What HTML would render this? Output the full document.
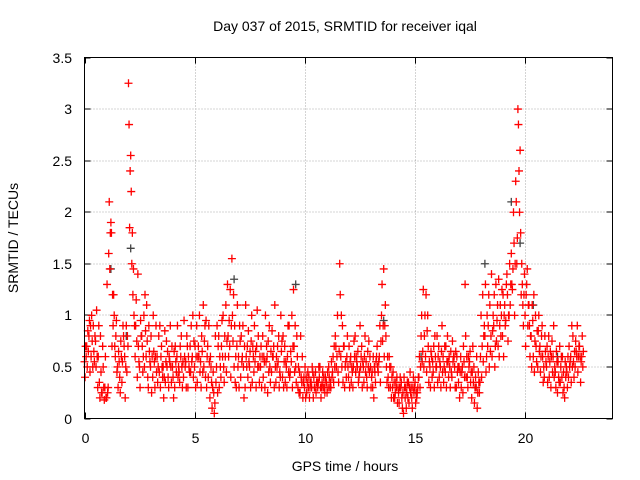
<!DOCTYPE html>
<html><head><meta charset="utf-8"><style>
body{margin:0;background:#fff;}
svg{display:block;font-family:"Liberation Sans",sans-serif;}
</style></head><body>
<svg id="chart" width="640" height="480" viewBox="0 0 640 480">
<rect width="640" height="480" fill="#fff"/>
<text x="345" y="31" font-size="14" text-anchor="middle" fill="#000">Day 037 of 2015, SRMTID for receiver iqal</text>
<text transform="translate(18,238) rotate(-90)" font-size="14" text-anchor="middle" fill="#000">SRMTID / TECUs</text>
<text x="345" y="471" font-size="14" text-anchor="middle" fill="#000">GPS time / hours</text>
<g id="grid"></g>
<g id="ticks"></g>
<g id="marks"></g>
<rect x="84.5" y="57.5" width="528" height="361" fill="none" stroke="#000" stroke-width="1"/>
</svg>
<script>
const xTicks=[0,5,10,15,20];
const yTicks=[0,0.5,1,1.5,2,2.5,3,3.5];
const yTickLabels=["0","0.5","1","1.5","2","2.5","3","3.5"];
const tStart=0, tStep=0.1;
const seriesA=[.55,.7,.8,.6,.9,.75,.3,.2,.25,.18, .2,1.6,1.9,.9,.6,.5,.4,.35,.7,.9, 3.25,2.55,1.2,.6,.4,.5,.8,1.0,.6,.3, .5,.4,.3,.6,.45,.7,.2,.55,.4,.9, .5,.3,.6,.45,.8,.4,.55,.3,.7,.6, .5,.9,.6,.3,1.1,.4,.7,.2,.1,.05, .5,.8,.4,1.0,.6,1.3,.7,1.55,.5,.3, .6,.4,.9,.3,.7,.5,1.0,.45,.3,.8, .5,.8,.3,.6,.9,.45,.7,.35,.55,.4, .4,.7,.3,.9,.55,1.25,.5,.3,.25,.6, .3,.25,.4,.35,.2,.45,.3,.5,.35,.3, .35,.5,.3,.6,.8,1.0,1.5,.5,.7,.4, .4,.6,.3,.8,.5,.45,.7,.35,.55,.5, .5,.3,.45,.7,.6,1.0,1.45,.8,.4,.3, .3,.2,.4,.15,.35,.05,.3,.2,.45,.1, .3,.2,.4,.8,1.25,.6,1.0,.5,.4,.3, .5,.7,.3,.6,.45,.8,.5,.4,.6,.3, .35,.6,.25,1.3,.4,.55,.2,.5,.3,.45, .6,1.2,.8,1.0,.5,1.4,.9,1.3,.7,1.1, .8,1.1,1.4,1.0,1.6,2.0,2.3,3.0,2.6,1.3, 1.4,1.3,1.1,.8,.6,1.0,.5,.7,.9,.4, .5,.8,.3,.6,.45,.25,.7,.4,.3,.5, .4,.6,.8,.5,.9,.7,.6];
const seriesB=[.4,.5,.95,1.0,.65,.5,.6,.8,.7,.3, 1.3,2.1,1.8,1.2,.8,.3,.25,.55,.6,.45, 2.85,2.2,1.45,.9,1.4,.3,.7,.5,1.1,.9, .8,1.0,.6,.35,.9,.5,.4,.75,.3,.5, .4,.7,.9,.35,.5,.95,.3,.6,.45,1.0, .7,.35,1.0,.8,.5,.95,.4,.6,.3,.15, .9,.3,.7,.5,1.1,.8,1.25,1.0,.9,.7, .3,.8,.5,1.1,.4,.65,.35,.9,.7,.5, .7,.4,1.0,.25,.5,.85,.3,.6,.8,1.0, .8,.35,.6,.4,1.0,.7,.35,.5,.8,.2, .5,.35,.2,.3,.4,.25,.35,.3,.45,.25, .25,.4,.55,.35,.7,.45,1.2,.9,.3,.6, .7,.35,.5,.45,.65,.9,.3,.6,.4,.75, .3,.6,.35,.5,.9,1.3,.6,.5,.3,.5, .45,.25,.15,.3,.2,.4,.1,.35,.25,.3, .35,.25,.6,1.0,.5,1.2,.7,.3,.55,.8, .8,.4,.65,.35,.7,.55,.3,.75,.5,.6, .5,.3,.7,.8,.3,.65,.45,.15,.6,.35, 1.0,.55,1.3,.7,1.1,.6,1.2,.75,1.35,.8, 1.2,.9,1.2,1.5,1.3,1.7,2.1,2.85,1.8,1.1, 1.0,1.45,.9,.5,1.2,.7,.85,.45,.6,.8, .7,.4,.6,.9,.3,.55,.35,.6,.2,.45, .7,.35,.55,.75,.45,.6,.8];
const seriesC=[.7,.85,.45,.75,.55,1.05,.9,.45,.5,.6, .25,1.45,.7,1.0,.95,.65,.75,.9,.2,.8, 1.85,1.5,1.0,1.15,.7,.95,.45,1.2,.75,.65, .25,.65,.9,.5,.3,.4,.85,.5,.6,.35, .2,.55,.4,.7,.3,.6,.8,.5,.9,.4, .3,.6,.45,.65,.75,.3,.9,.5,.45,.8, .25,.6,.95,.35,.45,.6,.4,.75,.35,1.1, .9,.55,.2,.6,.85,.3,.7,.55,1.05,.35, .3,.6,.55,.75,.35,.6,1.1,.5,.3,.65, .3,.55,.9,.45,.3,.45,.8,.25,.4,.35, .2,.45,.3,.5,.3,.35,.5,.2,.3,.4, .45,.3,.4,.7,.5,.35,.6,.35,.5,.8, .3,.5,.75,.6,.35,.5,.55,.8,.3,.45, .4,.2,.55,.45,.35,.75,.9,.35,.6,.2, .2,.35,.3,.4,.1,.3,.25,.15,.3,.4, .15,.3,.3,.55,.8,.45,.35,.65,.45,.6, .35,.55,.9,.5,.3,.4,.65,.55,.3,.45, .2,.45,.55,.4,.6,.35,.7,.3,.1,.25, .4,.8,.45,.9,.65,.85,.5,.95,.6,1.0, .6,.95,.75,1.1,1.25,1.0,1.5,2.4,1.2,.9, .7,.9,.6,1.1,.45,.55,1.0,.6,.35,.65, .35,.55,.75,.4,.65,.4,.5,.25,.55,.3, .5,.9,.4,.65,.6,.35,.5];
const seriesD=[.6,.65,.9,.5,.8,.6,.35,.25,.3,.2, .3,1.8,1.2,.7,.45,.55,.6,.8,.5,.7, 2.4,1.8,.9,.75,.55,.8,.6,.85,.4,.55, .6,.55,.45,.8,.6,.5,.35,.65,.55,.7, .65,.45,.5,.6,.55,.5,.7,.45,.55,.75, .6,.7,.55,.45,.9,.6,.55,.35,.25,.35, .7,.5,.6,.8,.75,.95,.9,1.2,.6,.5, .75,.6,.7,.5,.55,.75,.6,.65,.5,.6, .6,.55,.7,.45,.65,.6,.5,.7,.45,.75, .55,.5,.45,.65,.7,.9,.6,.45,.35,.4, .4,.3,.35,.45,.3,.35,.4,.3,.4,.35, .3,.35,.45,.5,.6,.65,1.0,.7,.55,.5, .55,.45,.6,.55,.4,.6,.5,.45,.65,.6, .45,.5,.6,.55,.75,.9,1.1,.6,.5,.4, .35,.3,.25,.3,.25,.2,.35,.3,.2,.25, .25,.4,.5,.65,1.0,.85,.55,.6,.7,.5, .6,.5,.45,.7,.55,.6,.45,.6,.65,.5, .45,.5,.4,.6,.5,.45,.35,.4,.25,.35, .7,.9,.6,1.2,.8,1.0,.7,1.1,.9,1.25, 1.0,1.3,1.0,1.3,1.45,1.5,1.75,2.0,1.5,1.2, 1.2,1.1,.8,.95,.75,.85,.65,.8,.5,.55, .6,.65,.45,.5,.55,.35,.6,.45,.4,.6, .55,.5,.65,.6,.7,.55,.65];
const grayHours=[1.2,1.9,2.1,6.8,9.6,13.6,15.3,17.8,18.2,19.4,19.8,20.4,21.5];
const grayValues=[1.45,.8,1.65,1.35,1.3,.95,.6,.3,1.5,2.1,1.7,1.1,.6];

const NS="http://www.w3.org/2000/svg";
const X0=84.5,X1=612.5,Y0=418.5,Y1=57.5,XMAX=24,YMAX=3.5;
function xs(v){return X0+(v/XMAX)*(X1-X0);}
function ys(v){return Y0-(v/YMAX)*(Y0-Y1);}
const grid=document.getElementById('grid'),ticks=document.getElementById('ticks'),marks=document.getElementById('marks');
function line(p,x1,y1,x2,y2,st,dash){const l=document.createElementNS(NS,'line');l.setAttribute('x1',x1);l.setAttribute('y1',y1);l.setAttribute('x2',x2);l.setAttribute('y2',y2);l.setAttribute('stroke',st);if(dash)l.setAttribute('stroke-dasharray',dash);p.appendChild(l);return l;}
function txt(p,x,y,s,anchor){const t=document.createElementNS(NS,'text');t.setAttribute('x',x);t.setAttribute('y',y);t.setAttribute('font-size','14');t.setAttribute('text-anchor',anchor);t.textContent=s;p.appendChild(t);return t;}
yTicks.forEach((v,i)=>{const y=Math.round(ys(v));
 if(v>0&&v<YMAX){const g=line(grid,X0,y,X1,y,'#aaa','1,2');}
 line(ticks,X0,y,X0+6,y,'#000');line(ticks,X1,y,X1-6,y,'#000');
 const t=txt(ticks,72,y+5,yTickLabels[i],'end');
 
 
});
xTicks.forEach(v=>{const x=Math.round(xs(v))+0.5;
 if(v>0){const g=line(grid,x,Y0,x,Y1,'#aaa','1,2');}
 line(ticks,x,Y0,x,Y0-6,'#000');line(ticks,x,Y1,x,Y1+6,'#000');
 const t=txt(ticks,x,443,String(v),'middle');
 
 
});
function plus(x,y,col,name){const p=document.createElementNS(NS,'path');p.setAttribute('d',`M${x-4} ${y}H${x+4}M${x} ${y-4}V${y+4}`);p.setAttribute('stroke',col);p.setAttribute('stroke-width','1.3');p.setAttribute('fill','none');
 
 
 marks.appendChild(p);}
grayHours.forEach((h,i)=>plus(xs(h),ys(grayValues[i]),'#444','gray-point'));
[seriesA,seriesB,seriesC,seriesD].forEach((s,k)=>{s.forEach((v,i)=>{const h=tStart+i*tStep+k*0.025;plus(xs(h),ys(v),'#ff0000','srmtid-point');});});
</script>
</body></html>
